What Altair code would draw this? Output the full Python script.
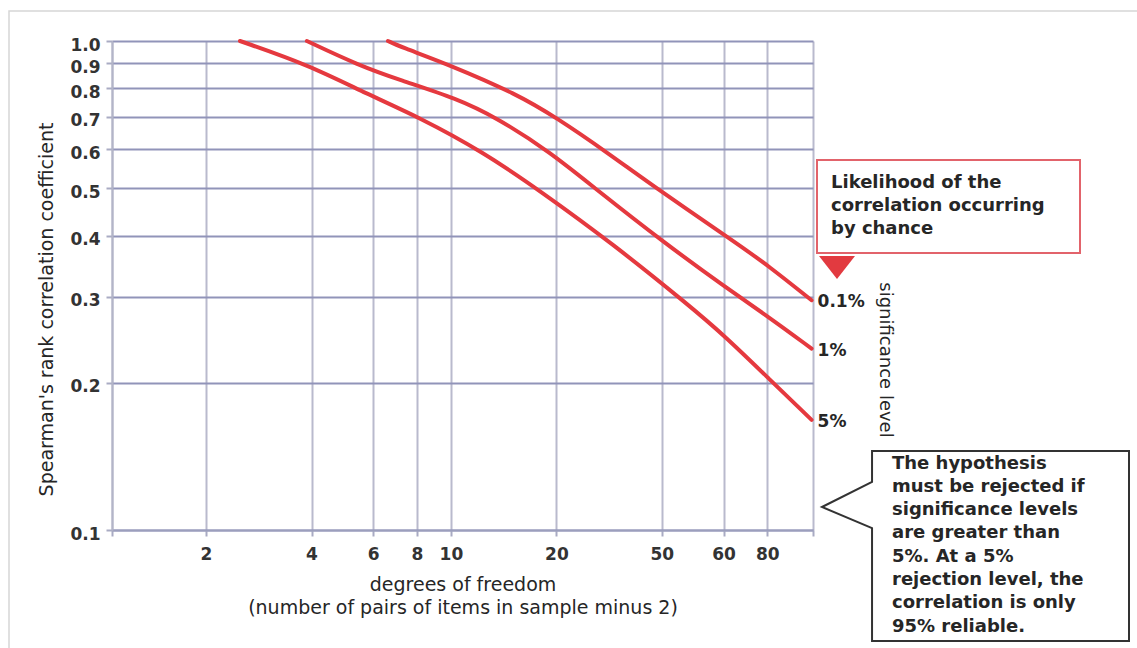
import altair as alt
import pandas as pd

# ---------------- data ----------------
series_names = ["0.1%", "1%", "5%"]

dof_01 = [6.61, 7.15, 9.94, 15.4, 20.0, 27.8, 39.1, 65.4, 80.5, 107.0]
rho_01 = [1.0, 0.974, 0.893, 0.779, 0.697, 0.593, 0.496, 0.386, 0.347, 0.295]

dof_1 = [3.88, 5.43, 7.15, 10.4, 13.5, 19.2, 26.1, 40.8, 60.6, 80.5, 107.0]
rho_1 = [1.0, 0.893, 0.832, 0.763, 0.697, 0.593, 0.496, 0.386, 0.314, 0.273, 0.235]

dof_5 = [2.50, 3.93, 5.76, 8.16, 12.35, 17.96, 28.8, 48.1, 60.6, 80.5, 107.0]
rho_5 = [1.0, 0.893, 0.779, 0.697, 0.593, 0.494, 0.386, 0.287, 0.249, 0.2045, 0.168]

# log-paper grid lines (the reference labels its 40 line as "50")
x_tick_values = [2, 4, 6, 8, 10, 20, 40, 60, 80]
x_tick_labels = ["2", "4", "6", "8", "10", "20", "50", "60", "80"]
y_tick_values = [0.1, 0.2, 0.3, 0.4, 0.5, 0.6, 0.7, 0.8, 0.9, 1.0]

x_domain = [1.078, 108.0]
y_domain = [0.1, 1.0]

x_title = ["degrees of freedom", "(number of pairs of items in sample minus 2)"]
y_title = "Spearman's rank correlation coefficient"
side_title = "significance level"
note_top = ["Likelihood of the", "correlation occurring", "by chance"]
note_bottom = ["The hypothesis", "must be rejected if", "significance levels",
               "are greater than", "5%. At a 5%", "rejection level, the",
               "correlation is only", "95% reliable."]

# ---------------- tables ----------------
rows = []
for name, xs, ys in zip(series_names, [dof_01, dof_1, dof_5], [rho_01, rho_1, rho_5]):
    for i, (xv, yv) in enumerate(zip(xs, ys)):
        rows.append({"series": name, "dof": xv, "rho": yv, "order": i})
df = pd.DataFrame(rows)
label_df = pd.DataFrame({
    "series": series_names,
    "dof": [s[-1] for s in (dof_01, dof_1, dof_5)],
    "rho": [s[-1] for s in (rho_01, rho_1, rho_5)],
})

label_expr = "''"
for v, l in reversed(list(zip(x_tick_values, x_tick_labels))):
    label_expr = f"datum.value == {v} ? '{l}' : ({label_expr})"

FONT = "DejaVu Sans"
RED = "#e5393f"
TXT = "#262626"

x_scale = alt.Scale(type="log", domain=x_domain, nice=False)
y_scale = alt.Scale(type="log", domain=y_domain, nice=False)

x_axis = alt.Axis(
    values=[x_domain[0]] + x_tick_values + [x_domain[1]], labelExpr=label_expr,
    title=x_title, grid=True, gridColor="#b9bacd", gridWidth=2,
    domainColor="#9c9fbd", domainWidth=2, tickColor="#a9abc3", tickWidth=2, tickSize=6,
    labelPadding=10, labelFont=FONT, labelFontWeight="bold", labelFontSize=17,
    labelColor="#333333", labelOverlap=False, labelFlush=False,
    titleFont=FONT, titleFontWeight="normal", titleFontSize=19, titleColor=TXT,
    titleX=350.5, titleY=60, titleBaseline="alphabetic", titleAlign="center",
    titleLineHeight=23,
)
y_axis = alt.Axis(
    values=y_tick_values, format=".1f", title=y_title, grid=True,
    gridColor="#9194b9", gridWidth=2, domainColor="#b3b5c8", domainWidth=2,
    tickColor="#a9abc3", tickWidth=2, tickSize=6, labelPadding=6, labelOffset=4,
    labelFont=FONT, labelFontWeight="bold", labelFontSize=17, labelColor="#333333",
    labelOverlap=False, labelFlush=False,
    titleFont=FONT, titleFontWeight="normal", titleFontSize=19, titleColor=TXT,
    titleAngle=270, titleBaseline="alphabetic", titleAlign="center",
    titleX=-60, titleY=268,
)

lines = alt.Chart(df).mark_line(
    color=RED, strokeWidth=4, interpolate="basis", strokeCap="round"
).encode(
    x=alt.X("dof:Q", scale=x_scale, axis=x_axis),
    y=alt.Y("rho:Q", scale=y_scale, axis=y_axis),
    detail="series:N",
    order="order:Q",
)

end_labels = alt.Chart(label_df).mark_text(
    align="left", baseline="middle", dx=6, dy=2, font=FONT, fontWeight="bold",
    fontSize=17, color=TXT
).encode(
    x=alt.X("dof:Q", scale=x_scale, axis=x_axis),
    y=alt.Y("rho:Q", scale=y_scale, axis=y_axis),
    text="series:N",
)

base = alt.Chart(pd.DataFrame({"k": [0]}))

frame = base.mark_rect(fillOpacity=0, stroke="#d6d6d6", strokeWidth=1.5).encode(
    x=alt.value(-103), x2=alt.value(1030), y=alt.value(-30), y2=alt.value(612)
)

red_box = base.mark_rect(fill="white", stroke="#e2636b", strokeWidth=2).encode(
    x=alt.value(705), x2=alt.value(968), y=alt.value(119), y2=alt.value(212)
)

red_tri = base.mark_point(
    shape="M-1,-0.64 L1,-0.64 L0,0.64 Z", filled=True, fill="#e23a40",
    opacity=1, size=36 * 36, strokeWidth=0
).encode(x=alt.value(725), y=alt.value(226.5))

callout_path = ("M-1,-0.254 L-0.674,-0.417 L-0.674,-0.619 L1,-0.619 L1,0.619 "
                "L-0.674,0.619 L-0.674,-0.117 Z")
black_box = base.mark_point(
    shape=callout_path, filled=True, fill="white", stroke="#333333",
    strokeWidth=2, opacity=1, size=307 * 307
).encode(x=alt.value(863.5), y=alt.value(505))

# multi-line texts: y is the centre of the first line
top_text = base.mark_text(
    align="left", baseline="middle", font=FONT, fontWeight="bold", fontSize=18,
    lineHeight=23, color=TXT
).encode(x=alt.value(719), y=alt.value(141.5), text=alt.value(note_top))

bottom_text = base.mark_text(
    align="left", baseline="middle", font=FONT, fontWeight="bold", fontSize=18,
    lineHeight=23.3, color=TXT
).encode(x=alt.value(780), y=alt.value(422.5), text=alt.value(note_bottom))

side_text = base.mark_text(
    angle=90, align="center", baseline="middle", font=FONT, fontSize=18, color=TXT
).encode(x=alt.value(773), y=alt.value(319), text=alt.value(side_title))

chart = alt.layer(
    frame, lines, end_labels, red_box, red_tri, black_box, top_text, bottom_text, side_text
).properties(
    width=701, height=489,
    padding={"left": 112, "top": 41, "right": 324, "bottom": 118},
    autosize=alt.AutoSizeParams(type="none"),
    background="white",
).configure_view(strokeWidth=0)

chart.save("out.html", embed_options={"renderer": "svg", "actions": False})
